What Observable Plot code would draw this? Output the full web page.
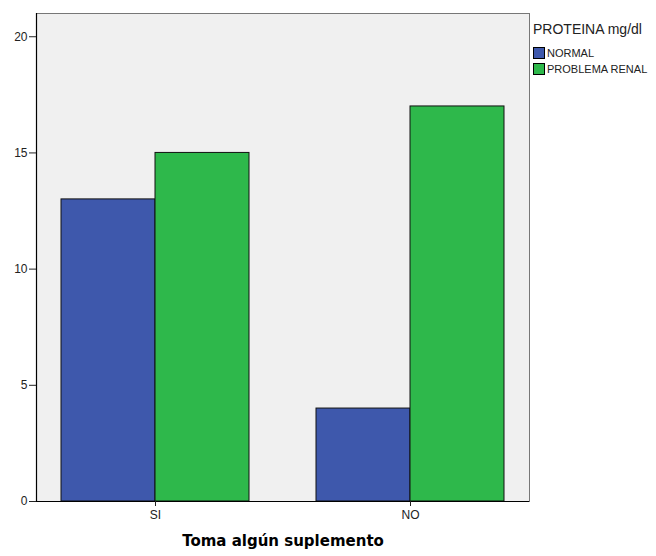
<!DOCTYPE html>
<html>
<head>
<meta charset="utf-8">
<script src="https://cdn.jsdelivr.net/npm/d3@7"></script>
<script src="https://cdn.jsdelivr.net/npm/@observablehq/plot@0.6"></script>
<style>
  html, body { margin: 0; padding: 0; background: #fff; }
  #wrap { position: relative; width: 656px; height: 556px; font-family: "Liberation Sans", Arial, sans-serif; }
  #legend { position: absolute; left: 533px; top: 21px; color: #222; }
  #legend .title { font-size: 14px; margin-bottom: 8px; }
  #legend .item { display: flex; align-items: center; font-size: 11px; height: 16px; }
  #legend .sw { width: 10px; height: 10px; border: 1px solid #000; margin-right: 2px; }
</style>
</head>
<body>
<div id="wrap"><div id="legend"></div></div>
<script>
const groups = ["SI", "NO"];
const series = ["NORMAL", "PROBLEMA RENAL"];
const normalValues = [13, 4];
const renalValues = [15, 17];
const yTicks = [0, 5, 10, 15, 20];
const colors = ["#3e58ac", "#2eb84b"];
const xTitle = "Toma algún suplemento";
const legendTitle = "PROTEINA mg/dl";

const data = [];
groups.forEach((g, i) => {
  data.push({grupo: g, serie: series[0], valor: normalValues[i]});
  data.push({grupo: g, serie: series[1], valor: renalValues[i]});
});

const half = 94;
const chart = Plot.plot({
  width: 656,
  height: 556,
  marginLeft: 36,
  marginRight: 127,
  marginTop: 13,
  marginBottom: 55,
  style: {fontFamily: "'Liberation Sans', Arial, sans-serif", fontSize: "12px", color: "#222", background: "transparent"},
  x: {domain: groups, paddingInner: 0.263, paddingOuter: 0.098},
  y: {domain: [0, 21]},
  marks: [
    Plot.frame({fill: "#f0f0f0", stroke: "#777"}),
    Plot.barY(data.filter(d => d.serie === series[0]), {x: "grupo", y: "valor", fill: colors[0], stroke: "#111", strokeWidth: 1, insetRight: half}),
    Plot.barY(data.filter(d => d.serie === series[1]), {x: "grupo", y: "valor", fill: colors[1], stroke: "#111", strokeWidth: 1, insetLeft: half}),
    Plot.ruleY([0], {stroke: "#000", strokeWidth: 1.2}),
    Plot.frame({anchor: "left", stroke: "#000", strokeWidth: 1.2}),
    Plot.axisY({ticks: yTicks, tickSize: 7, tickPadding: 2, label: null, fontSize: 12}),
    Plot.axisX({tickSize: 5, tickPadding: 4, label: null, fontSize: 12}),
    Plot.text([xTitle], {frameAnchor: "bottom", dy: 44, fontWeight: "bold", fontSize: 15, fontFamily: "'DejaVu Sans', sans-serif", fill: "#000"})
  ]
});
document.getElementById("wrap").prepend(chart);

const lg = document.getElementById("legend");
lg.innerHTML = `<div class="title">${legendTitle}</div>` +
  series.map((s, i) => `<div class="item"><div class="sw" style="background:${colors[i]}"></div>${s}</div>`).join("");
</script>
</body>
</html>
